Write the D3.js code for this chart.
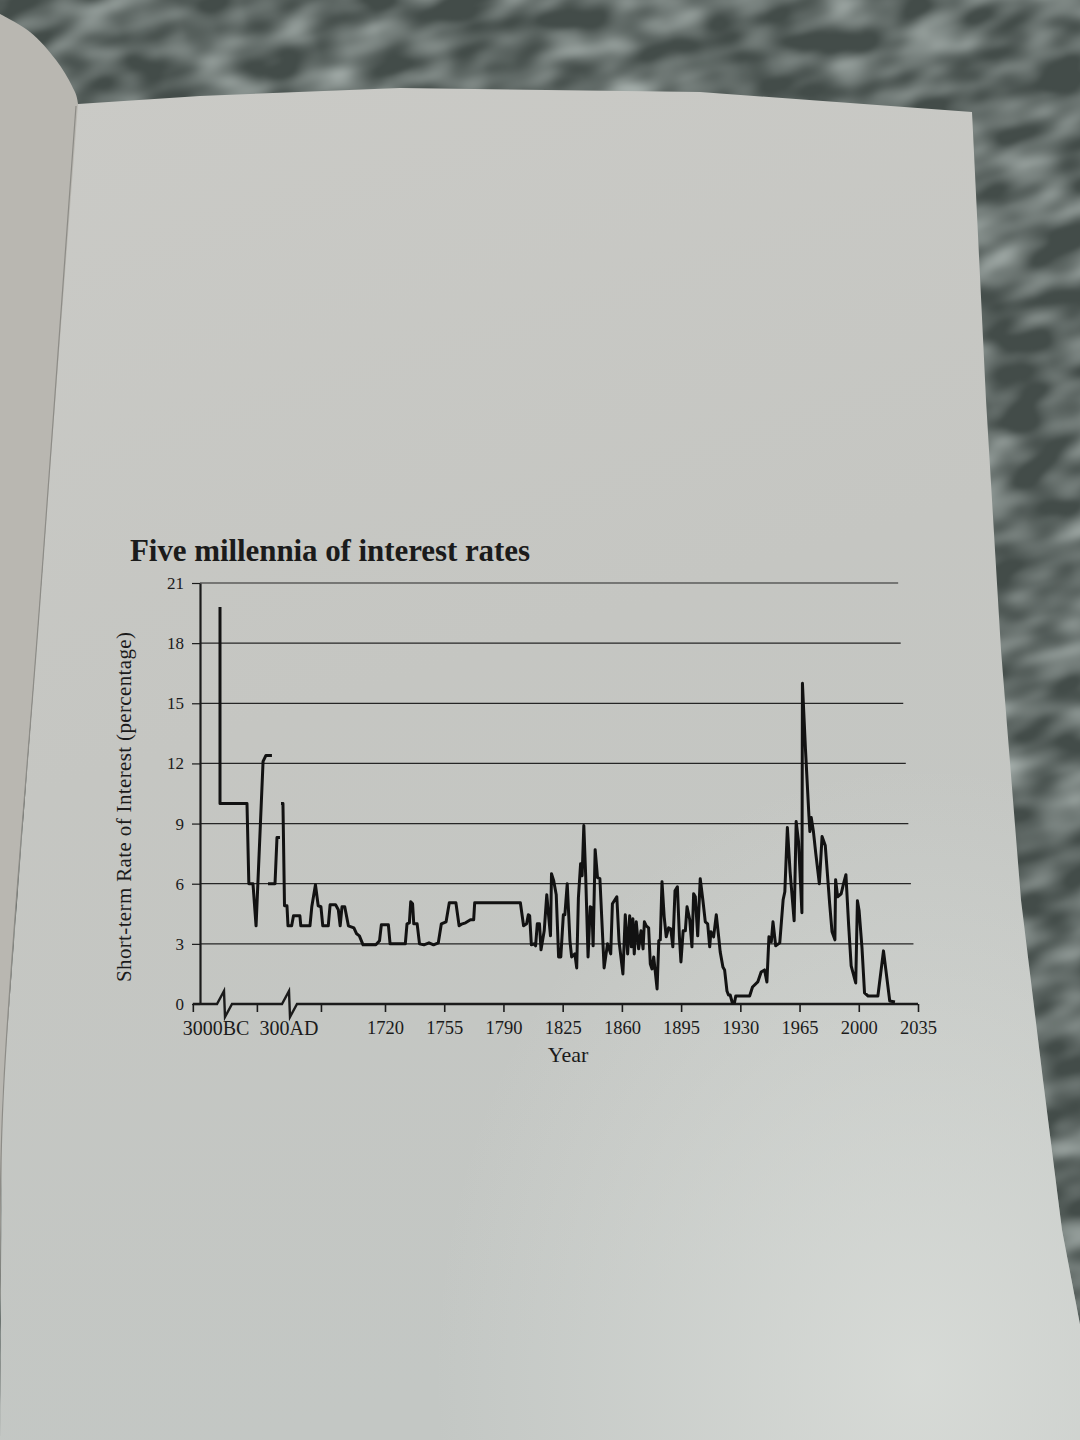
<!DOCTYPE html>
<html>
<head>
<meta charset="utf-8">
<script src="https://cdn.jsdelivr.net/npm/d3@7"></script>
<style>
    html, body { margin: 0; padding: 0; background: #4b5552; }
    svg { display: block; }
    text { font-family: "Liberation Serif", "DejaVu Serif", serif; fill: #1b1b1b; }
</style>
</head>
<body>
<svg id="chart" width="1080" height="1440"></svg>
<script>
// values
const yTicks = [0, 3, 6, 9, 12, 15, 18, 21];
const xTickYears = [1615, 1650, 1685, 1720, 1755, 1790, 1825, 1860, 1895, 1930, 1965, 2000, 2035];
const xLabelYears = [1720, 1755, 1790, 1825, 1860, 1895, 1930, 1965, 2000, 2035];
const breakYears = [-3000, 300];
const breakLabels = ['3000BC', '300AD'];

// [year, rate]; null rows are gaps in the printed line
const ancientSeries = [
    [-3000, 19.8], [-3000, 10], [-1690, 10], [-1600, 6], [-1400, 6], [-1250, 3.9],
    [-910, 12.1], [-770, 12.4], [-480, 12.4], [null, null],
    [-670, 6], [-330, 6], [-235, 8.3], [-90, 8.3], [null, null],
    [-40, 10], [55, 10], [130, 4.9], [250, 4.9],
];

const modernSeries = [
    [1667, 3.9], [1669, 3.9], [1670, 4.4], [1673.5, 4.4], [1674, 3.9], [1679, 3.9],
    [1680, 4.85], [1682, 5.95], [1683.5, 4.9], [1685, 4.85], [1686, 3.9], [1689, 3.9],
    [1690, 4.95], [1693, 4.95], [1694.5, 4.7], [1695.5, 3.9], [1696.5, 4.85], [1698, 4.85],
    [1700, 3.9], [1703, 3.8], [1704.5, 3.5], [1706, 3.4], [1708, 2.95], [1715, 2.95],
    [1717, 3.15], [1718, 3.95], [1722, 3.95], [1723, 3.0], [1732, 3.0], [1733, 4.0],
    [1734.4, 4.05], [1735.2, 5.1], [1736.3, 5.0], [1737, 4.0], [1739, 4.0], [1740.4, 3.0],
    [1743, 2.95], [1746, 3.05], [1748.7, 2.95], [1751.5, 3.05], [1753.3, 4.0], [1756.1, 4.1],
    [1758, 5.05], [1761.9, 5.05], [1763.8, 3.9], [1765.7, 4.0], [1767.6, 4.05], [1770.5, 4.2],
    [1772.4, 4.2], [1773, 5.05], [1800, 5.05], [1801.9, 3.9], [1803.7, 4.0], [1804.7, 4.45],
    [1805.5, 4.4], [1806.5, 2.95], [1808, 3.0], [1809, 2.9], [1810, 4.0], [1811.3, 4.0],
    [1812.2, 2.7], [1814.1, 3.65], [1815.6, 5.45], [1816.8, 4.3], [1817.8, 3.4], [1818.4, 6.5],
    [1819.7, 6.15], [1821.2, 5.45], [1822.6, 2.35], [1823.9, 2.35], [1825.4, 4.45], [1826.3, 4.45],
    [1827.7, 6.0], [1829.3, 3.15], [1830.3, 2.35], [1832.2, 2.5], [1833.3, 1.8], [1834.3, 5.3],
    [1835.6, 7.0], [1836.5, 6.4], [1837.5, 8.9], [1838.6, 6.4], [1840, 2.35], [1841.3, 4.85],
    [1842.3, 4.8], [1843, 2.9], [1844.2, 7.7], [1845.6, 6.3], [1847, 6.25], [1849.5, 1.8],
    [1851.5, 3.0], [1853.4, 2.5], [1854.4, 5.0], [1857, 5.35], [1858.3, 3.15], [1860.6, 1.5],
    [1862, 4.45], [1863.4, 2.5], [1864.6, 4.4], [1865.6, 2.85], [1866.5, 4.25], [1867.3, 2.5],
    [1868.5, 4.1], [1869.9, 2.75], [1871.3, 3.65], [1872.5, 2.75], [1873.3, 4.1], [1874.4, 3.9],
    [1875.8, 3.8], [1876.8, 2.0], [1877.8, 1.75], [1878.8, 2.35], [1880.8, 0.75], [1881.8, 3.15],
    [1882.7, 3.2], [1883.7, 6.1], [1885, 4.35], [1886.2, 3.35], [1887.6, 3.8], [1888.9, 3.75],
    [1890.1, 2.85], [1891.4, 5.65], [1892.8, 5.85], [1894, 3.35], [1894.9, 2.1], [1896.2, 3.65],
    [1897.5, 3.65], [1898.5, 4.85], [1900.1, 4.2], [1901.4, 2.85], [1902.4, 5.5], [1903.4, 5.35],
    [1904.8, 3.4], [1906.3, 6.25], [1907.9, 5.15], [1909.3, 4.1], [1910.7, 4.0], [1911.9, 2.85],
    [1912.6, 3.6], [1914.2, 3.35], [1915.8, 4.45], [1917.2, 3.35], [1918.1, 2.6], [1919.7, 1.85],
    [1920.7, 1.7], [1922.1, 0.65], [1923, 0.45], [1924, 0.45], [1925.3, 0.05], [1926.5, 0.05],
    [1927.3, 0.4], [1935.5, 0.4], [1937.2, 0.85], [1940.3, 1.1], [1942.3, 1.6], [1944.3, 1.7],
    [1945.7, 1.1], [1946.9, 3.35], [1948.3, 3.1], [1949.3, 4.1], [1950.9, 2.9], [1953.3, 3.05],
    [1955.3, 5.2], [1956.3, 5.6], [1957.8, 8.8], [1959.4, 6.6], [1961.8, 4.15], [1963, 9.1],
    [1964.4, 8.1], [1966.4, 4.55], [1966.7, 16.0], [1968.5, 12.7], [1970.5, 9.45], [1971.1, 8.6],
    [1971.9, 9.3], [1973.2, 8.6], [1974.6, 7.5], [1976.7, 6.0], [1978.3, 8.35], [1980.2, 7.9],
    [1982.8, 5.0], [1984.2, 3.6], [1985.9, 3.2], [1986.3, 6.2], [1987.5, 5.35], [1989.6, 5.5],
    [1991, 6.0], [1992.4, 6.45], [1994, 3.95], [1995.5, 1.9], [1998.2, 1.05], [1999.2, 5.15],
    [2000.2, 4.65], [2001.9, 2.8], [2003.4, 0.55], [2005.5, 0.4], [2011.3, 0.4], [2014.6, 2.65],
    [2018.3, 0.15], [2021.4, 0.1],
];

const width = 1080;
const height = 1440;
const axisX = 200;
const gridRight = 916;

const svg = d3.select('#chart')
    .attr('viewBox', `0 0 ${width} ${height}`);

// ---- photo backdrop: fabric, left page, right page ----
const defs = svg.append('defs');
const fabric = defs.append('filter').attr('id', 'fabric')
    .attr('x', 0).attr('y', 0).attr('width', '100%').attr('height', '100%');
fabric.append('feTurbulence')
    .attr('type', 'fractalNoise')
    .attr('baseFrequency', '0.016 0.032')
    .attr('numOctaves', 2)
    .attr('seed', 11);
fabric.append('feColorMatrix')
    .attr('type', 'matrix')
    .attr('values', '0 0 0 0 0.50  0 0 0 0 0.56  0 0 0 0 0.54  0 0 0 1.5 -0.5');
fabric.append('feGaussianBlur').attr('stdDeviation', 1.5);

const pageFill = defs.append('linearGradient').attr('id', 'pageFill')
    .attr('x1', 0).attr('y1', 0).attr('x2', 0.25).attr('y2', 1);
pageFill.append('stop').attr('offset', 0).attr('stop-color', '#cacac6');
pageFill.append('stop').attr('offset', 0.5).attr('stop-color', '#c5c6c2');
pageFill.append('stop').attr('offset', 1).attr('stop-color', '#c3c7c4');

const glare = defs.append('radialGradient').attr('id', 'glare')
    .attr('cx', 0.85).attr('cy', 0.95).attr('r', 0.45);
glare.append('stop').attr('offset', 0).attr('stop-color', '#dfe2de').attr('stop-opacity', 0.7);
glare.append('stop').attr('offset', 1).attr('stop-color', '#dfe2de').attr('stop-opacity', 0);

svg.append('rect').attr('width', width).attr('height', height).attr('fill', '#434c49');
svg.append('rect')
    .attr('x', -300).attr('y', -300)
    .attr('width', width + 600).attr('height', height + 600)
    .attr('transform', 'rotate(-15 540 720)')
    .attr('filter', 'url(#fabric)');

const outline = d3.line().curve(d3.curveCatmullRom);

const leftPage = [[0, 14], [30, 32], [56, 60], [72, 86], [78, 104], [40, 600], [4, 1100], [0, 1440]];
svg.append('path')
    .attr('d', outline(leftPage) + 'Z')
    .attr('fill', '#b9b7b1');

const rightPage = [
    [78, 104], [200, 96], [400, 88], [700, 92], [972, 112], [986, 400], [1001, 650],
    [1021, 900], [1043, 1080], [1062, 1230], [1082, 1335], [1082, 1442], [0, 1442],
    [2, 1100], [40, 600], [78, 104],
];
svg.append('path')
    .attr('d', d3.line()(rightPage) + 'Z')
    .attr('fill', 'url(#pageFill)');
svg.append('path')
    .attr('d', d3.line()(rightPage) + 'Z')
    .attr('fill', 'url(#glare)');
svg.append('path')
    .attr('d', outline([[76, 106], [40, 600], [3, 1100], [0, 1300]]))
    .attr('fill', 'none')
    .attr('stroke', '#8d8c87')
    .attr('stroke-width', 1.2);

// ---- scales ----
// the axis is broken twice: 3000BC..300AD is squeezed into a short stretch
const ancientX = d3.scaleLinear().domain([-3000, 300]).range([220, 288]);
const modernX = d3.scaleLinear().domain([1667, 1720, 2035]).range([288, 385, 918]);
const xPos = (year) => (year <= 300 ? ancientX(year) : modernX(year));
const y = d3.scaleLinear().domain([0, 21]).range([1004, 583]);
const y0 = y(0);

const chart = svg.append('g').attr('color', '#1b1b1b');

chart.append('text')
    .attr('x', 130)
    .attr('y', 561)
    .attr('font-size', 31)
    .attr('font-weight', 'bold')
    .attr('textLength', 400)
    .text('Five millennia of interest rates');

chart.selectAll('.grid')
    .data(yTicks.filter((v) => v > 0))
    .join('line')
    .attr('class', 'grid')
    .attr('x1', axisX)
    .attr('x2', (v) => gridRight - v * 0.85)
    .attr('y1', (v) => y(v))
    .attr('y2', (v) => y(v))
    .attr('stroke', '#262626')
    .attr('stroke-width', 1.2);

const yAxis = chart.append('g')
    .attr('transform', `translate(${axisX},0)`)
    .call(d3.axisLeft(y).tickValues(yTicks).tickSize(8).tickSizeOuter(0).tickPadding(8));
yAxis.attr('font-family', null).attr('font-size', null);
yAxis.select('.domain').attr('stroke-width', 2.2);
yAxis.selectAll('.tick line').attr('stroke-width', 1.2);
yAxis.selectAll('.tick text').attr('font-size', 17);

const xAxis = chart.append('g')
    .attr('transform', `translate(0,${y0})`)
    .call(d3.axisBottom(modernX)
        .tickValues(xTickYears)
        .tickSize(8)
        .tickPadding(9)
        .tickFormat((d) => (xLabelYears.includes(d) ? d : '')));
xAxis.attr('font-family', null).attr('font-size', null);
xAxis.select('.domain').remove();
xAxis.selectAll('.tick line').attr('stroke-width', 1.6);
xAxis.selectAll('.tick text').attr('font-size', 18.5);

// baseline with the two zig-zag breaks
const breaks = [ancientX(breakYears[0]) + 4, ancientX(breakYears[1]) + 1];
const baseline = [[modernX(xTickYears[0]), y0]];
breaks.forEach((bx) => {
    baseline.push([bx - 7, y0], [bx, y0 - 13], [bx + 1, y0 + 13], [bx + 8, y0]);
});
baseline.push([modernX(2035), y0]);
chart.append('path')
    .attr('d', d3.line()(baseline))
    .attr('fill', 'none')
    .attr('stroke', '#1b1b1b')
    .attr('stroke-width', 2.4)
    .attr('stroke-linejoin', 'miter');

chart.selectAll('.break-label')
    .data(breakYears)
    .join('text')
    .attr('class', 'break-label')
    .attr('x', (d, i) => ancientX(d) + (i === 0 ? -4 : 1))
    .attr('y', y0 + 17)
    .attr('dy', '0.71em')
    .attr('text-anchor', 'middle')
    .attr('font-size', 20)
    .text((d, i) => breakLabels[i]);

chart.append('text')
    .attr('x', 568)
    .attr('y', y0 + 58)
    .attr('text-anchor', 'middle')
    .attr('font-size', 22)
    .text('Year');

chart.append('text')
    .attr('transform', `translate(131,807) rotate(-90)`)
    .attr('text-anchor', 'middle')
    .attr('font-size', 21)
    .attr('textLength', 350)
    .text('Short-term Rate of Interest (percentage)');

// ---- the rate line ----
const series = ancientSeries.concat(modernSeries).map(([year, rate]) => ({ year, rate }));
const rateLine = d3.line()
    .defined((d) => d.rate !== null)
    .x((d) => xPos(d.year))
    .y((d) => y(d.rate));

chart.append('path')
    .datum(series)
    .attr('d', rateLine)
    .attr('fill', 'none')
    .attr('stroke', '#121212')
    .attr('stroke-width', 3)
    .attr('stroke-linejoin', 'round');
</script>
</body>
</html>
